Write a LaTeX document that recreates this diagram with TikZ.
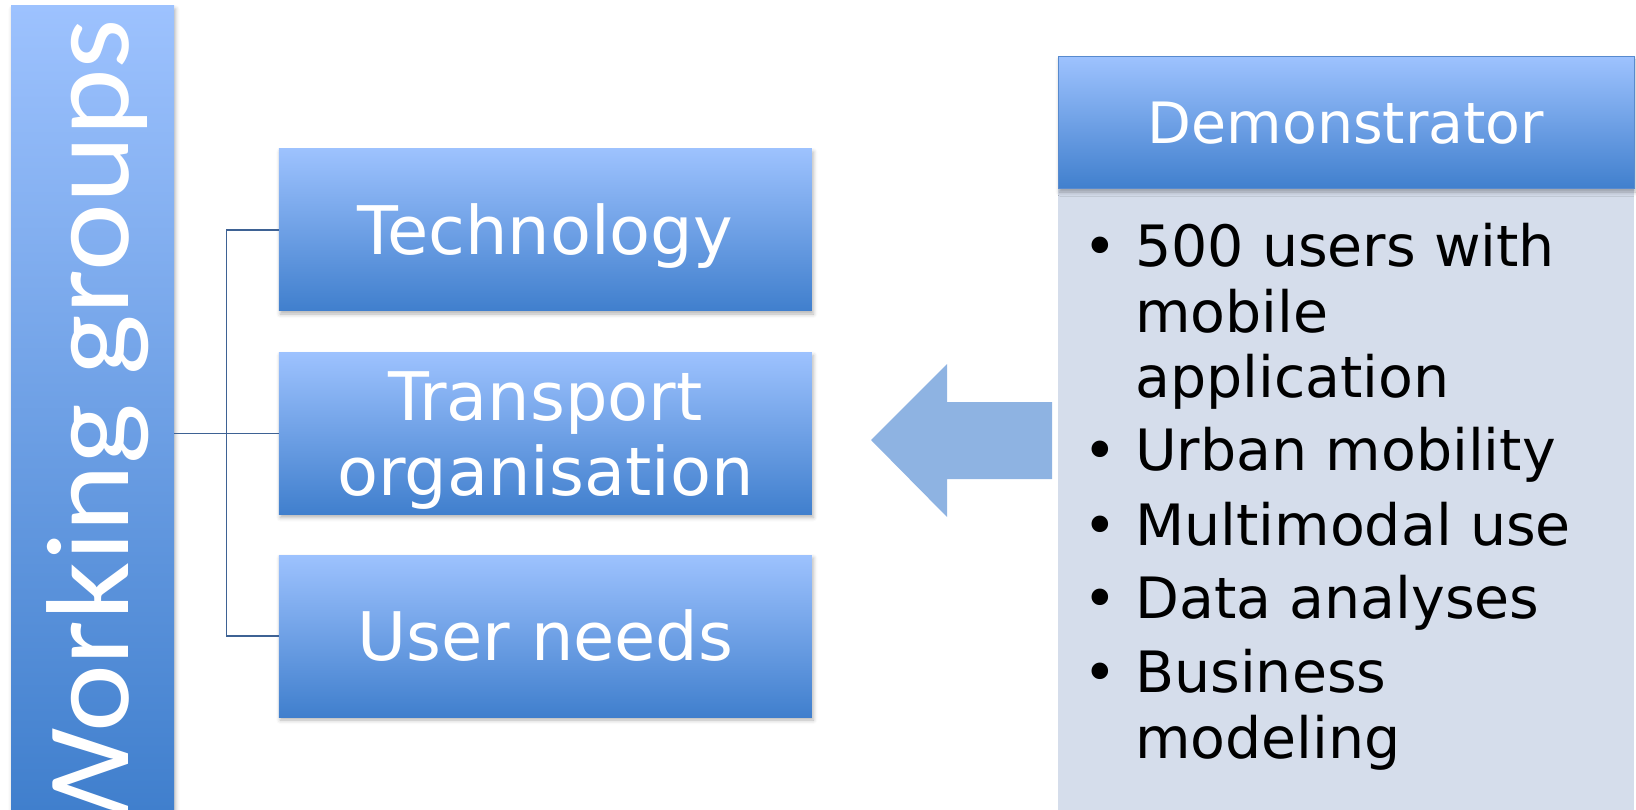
\documentclass[tikz,border=0pt]{standalone}
\usepackage{graphicx}
\usepackage{fontspec}
\setmainfont{DejaVu Sans}
\newfontfamily\wgfont{Carlito}
\usetikzlibrary{shadows.blur}
\definecolor{gtop}{RGB}{157,194,254}
\definecolor{gbot}{RGB}{64,127,205}
\definecolor{linec}{RGB}{62,98,148}
\definecolor{bodyc}{RGB}{213,221,235}
\definecolor{arrowc}{RGB}{142,179,226}
\definecolor{hdrline}{RGB}{88,138,206}
\tikzset{
  softshadow/.style={blur shadow={shadow xshift=1.5pt, shadow yshift=-3pt, shadow blur radius=4pt, shadow opacity=30}},
  wgbox/.style={rectangle, top color=gtop, bottom color=gbot, minimum width=533pt, minimum height=162pt,
    inner sep=0pt, text=white, font=\fontsize{67}{75}\selectfont, softshadow},
  boxtxt/.style={inner sep=0pt, text=white, font=\fontsize{67}{75}\selectfont, anchor=base},
  conn/.style={draw=linec, line width=1.8pt},
  bline/.style={inner sep=0pt, anchor=base west, text=black, font=\fontsize{57}{65}\selectfont},
  bdot/.style={inner sep=0pt, anchor=base, text=black, font=\fontsize{57}{65}\selectfont},
}
\begin{document}
\begin{tikzpicture}[x=1pt,y=-1pt]
\useasboundingbox (0,0) rectangle (1636,810);
% left bar
\node[rectangle, top color=gtop, bottom color=gbot, minimum width=163pt, minimum height=804pt, inner sep=0pt, softshadow] (wg) at (92.5,408) {};
\node[rotate=90, anchor=base east, inner sep=0pt, text=white, font=\wgfont\fontsize{118}{118}\selectfont] (wgt) at (128.5,19) {\scalebox{1.09}[1]{Working groups}};
% boxes
\node[wgbox, text height=49pt, text depth=0pt] (tech) at (545.3,230) {Technology};
\node[wgbox] (tr) at (545.3,433.5) {};
\node[boxtxt] (tr1) at (545.3,420) {Transport};
\node[boxtxt] (tr2) at (545.3,495) {organisation};
\node[wgbox, text height=49pt, text depth=0pt] (un) at (545.3,636) {User needs};
% connectors
\coordinate (j) at (226.5,433.5);
\draw[conn] (wg.east |- tr.west) -- (tr.west);
\draw[conn] (tech.west) -- (tech.west -| j) -- (un.west -| j) -- (un.west);
% arrow
\fill[arrowc] (871,440) -- (947,364) -- (947,402) -- (1052,402) -- (1052,479) -- (947,479) -- (947,517) -- cycle;
% demonstrator
\node[rectangle, fill=bodyc, minimum width=576pt, minimum height=621pt, inner sep=0pt] (body) at (1346,499.5) {};
\node[rectangle, top color=gtop, bottom color=gbot, draw=hdrline, line width=1pt, minimum width=576pt, minimum height=132pt,
  inner sep=0pt, text=white, font=\fontsize{57}{65}\selectfont, text height=41.5pt, text depth=0pt, softshadow] (demo) at (1346,123) {Demonstrator};
% bullets
\node[bdot] (d1) at (1100.7,267) {•};
\node[bline] (l1) at (1135,267) {500 users with};
\node[bline] (l2) at (1135,333) {mobile};
\node[bline] (l3) at (1135,397) {application};
\node[bdot] (d2) at (1100.7,470) {•};
\node[bline] (l4) at (1135,470) {Urban mobility};
\node[bdot] (d3) at (1100.7,545) {•};
\node[bline] (l5) at (1135,545) {Multimodal use};
\node[bdot] (d4) at (1100.7,618) {•};
\node[bline] (l6) at (1135,618) {Data analyses};
\node[bdot] (d5) at (1100.7,692) {•};
\node[bline] (l7) at (1135,692) {Business};
\node[bline] (l8) at (1135,758) {modeling};
\end{tikzpicture}
\end{document}
